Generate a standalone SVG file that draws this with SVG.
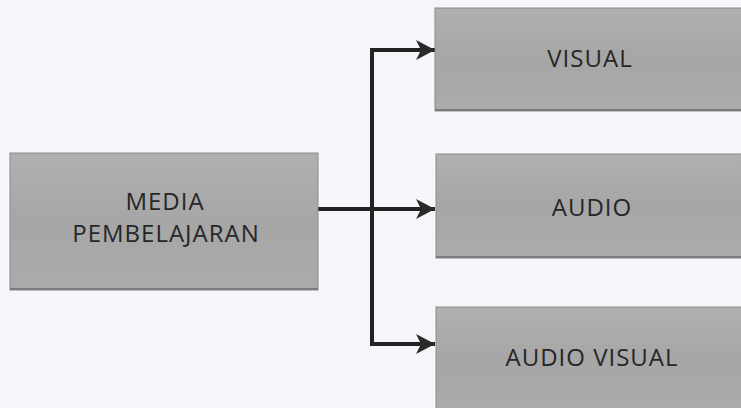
<svg xmlns="http://www.w3.org/2000/svg" width="741" height="408" viewBox="0 0 741 408">
  <defs>
    <linearGradient id="boxfill" x1="0" y1="0" x2="0" y2="1">
      <stop offset="0" stop-color="#b0b0b1"/>
      <stop offset="0.5" stop-color="#a6a6a7"/>
      <stop offset="1" stop-color="#ababac"/>
    </linearGradient>
    <marker id="arrow" markerWidth="24" markerHeight="22" refX="22" refY="11" orient="auto" markerUnits="userSpaceOnUse">
      <path d="M3,1 L22,11 L3,21 L8,11 Z" fill="#2a2a2a"/>
    </marker>
  </defs>
  <style>
    .box { fill: url(#boxfill); stroke: #8a8a8a; stroke-width: 1; }
    .edge { fill: none; stroke: #7a7a7a; stroke-width: 2; }
    .label { font-family: "Open Sans", "Liberation Sans", sans-serif; font-size: 24px; letter-spacing: 1px; fill: #262626; text-anchor: middle; }
    .conn { fill: none; stroke: #222222; stroke-width: 4; }
  </style>
  <rect width="741" height="408" fill="#f5f6f9"/>

  <g id="connectors">
    <line class="conn" x1="372" y1="50" x2="372" y2="344"/>
    <line class="conn" x1="318" y1="209" x2="435" y2="209" marker-end="url(#arrow)"/>
    <line class="conn" x1="370" y1="50" x2="435" y2="50" marker-end="url(#arrow)"/>
    <line class="conn" x1="370" y1="344" x2="435" y2="344" marker-end="url(#arrow)"/>
  </g>

  <g id="media-pembelajaran">
    <rect class="box" x="10" y="153" width="308" height="137"/>
    <line class="edge" x1="10" y1="289" x2="318" y2="289"/>
    <text class="label" x="165" y="210">MEDIA</text>
    <text class="label" x="166" y="242">PEMBELAJARAN</text>
  </g>

  <g id="visual">
    <rect class="box" x="435" y="8" width="310" height="103"/>
    <line class="edge" x1="435" y1="110" x2="741" y2="110"/>
    <text class="label" x="590" y="67">VISUAL</text>
  </g>

  <g id="audio">
    <rect class="box" x="436" y="154" width="310" height="104"/>
    <line class="edge" x1="436" y1="257" x2="741" y2="257"/>
    <text class="label" x="592" y="216">AUDIO</text>
  </g>

  <g id="audio-visual">
    <rect class="box" x="436" y="307" width="310" height="110"/>
    <text class="label" x="592" y="366">AUDIO VISUAL</text>
  </g>
</svg>
